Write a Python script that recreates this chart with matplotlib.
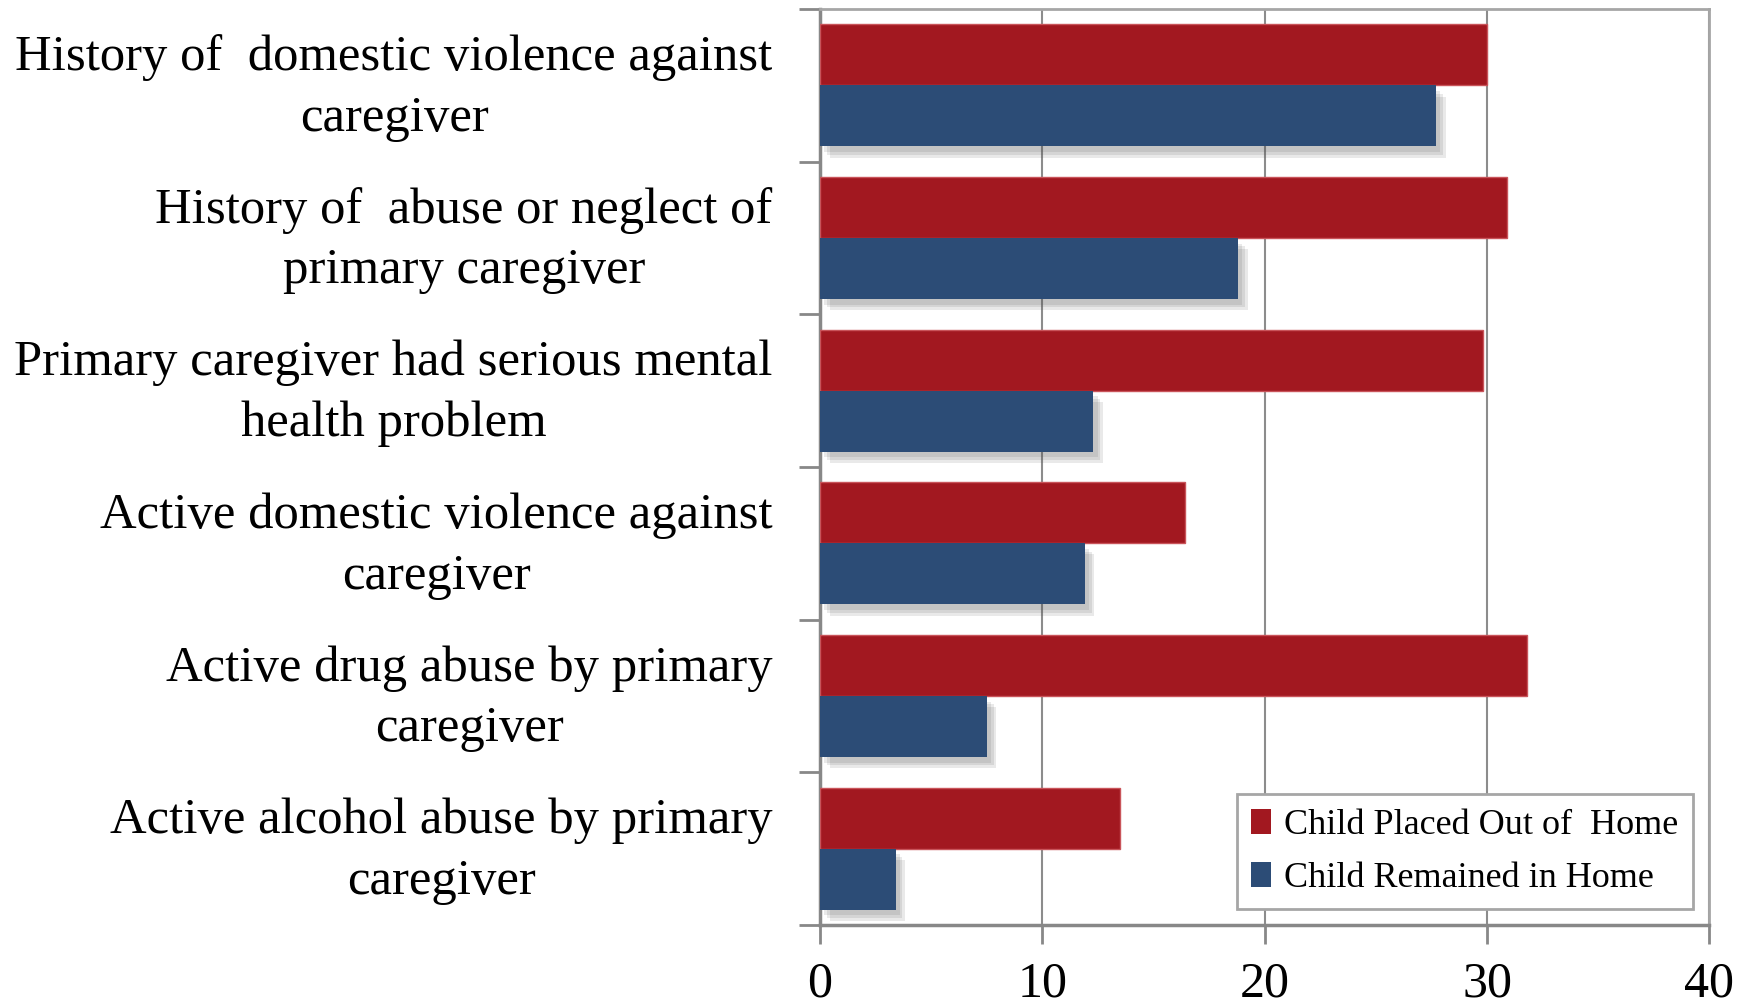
import numpy as np
import matplotlib
matplotlib.use('Agg')
import matplotlib.pyplot as plt
import matplotlib.patheffects as pe
import matplotlib.transforms as mtransforms
from matplotlib.patches import Patch

# we keep the values
categories = ['History of  domestic violence against\ncaregiver',
              'History of  abuse or neglect of\nprimary caregiver',
              'Primary caregiver had serious mental\nhealth problem',
              'Active domestic violence against\ncaregiver',
              'Active drug abuse by primary\ncaregiver',
              'Active alcohol abuse by primary\ncaregiver']
placed_out = [30.0, 30.9, 29.8, 16.4, 31.8, 13.5]
remained_home = [27.7, 18.8, 12.3, 11.9, 7.5, 3.4]
series_names = ['Child Placed Out of  Home', 'Child Remained in Home']
x_ticks = [0, 10, 20, 30, 40]

red = '#A21820'
blue = '#2C4C76'

plt.rcParams['font.family'] = ['Liberation Serif', 'DejaVu Serif']

fig = plt.figure(figsize=(17.52, 10.07), dpi=100)
ax = fig.add_axes([0.468, 0.0814, 0.5077, 0.9096])

y = np.arange(len(categories))
h = 0.4

# red bars on top of each group, blue bars below with a soft shadow
ax.barh(y - h / 2, placed_out, height=h, color=red, edgecolor='#c9545a',
        linewidth=1, zorder=3)
blue_bars = ax.barh(y + h / 2, remained_home, height=h, color=blue,
                    edgecolor='none', zorder=3)
# a few light shadows stacked together look a bit like a blurred one
shadow = [pe.SimplePatchShadow(offset=(o, -o - 1), shadow_rgbFace='#555555', alpha=0.13)
          for o in (7, 5, 3)]
for b in blue_bars:
    b.set_path_effects(shadow + [pe.Normal()])

ax.set_xlim(0, 40)
ax.set_ylim(len(categories) - 0.5, -0.5)
ax.set_xticks(x_ticks)
ax.set_xticklabels([str(t) for t in x_ticks], fontsize=36)
ax.tick_params(axis='x', length=14, width=2, color='#888888', pad=12)

# we put the labels at the group centers and the tick marks at the boundaries
ax.set_yticks(y)
ax.set_yticklabels(categories, fontsize=36.5, ha='right', multialignment='center',
                   linespacing=1.4)
ax.tick_params(axis='y', which='major', length=0, pad=34)
ax.set_yticks(np.arange(len(categories) + 1) - 0.5, minor=True)
ax.tick_params(axis='y', which='minor', length=15, width=2, color='#888888')
# nudge the two-line labels up a little so they sit in the middle of the group
nudge = mtransforms.ScaledTranslation(0, 0.1, fig.dpi_scale_trans)
for lab in ax.get_yticklabels():
    lab.set_transform(lab.get_transform() + nudge)

ax.grid(axis='x', color='#8c8c8c', linewidth=1.5, zorder=0)
ax.set_axisbelow(True)
for side in ['top', 'right']:
    ax.spines[side].set_color('#a6a6a6')
    ax.spines[side].set_linewidth(2)
for side in ['left', 'bottom']:
    ax.spines[side].set_color('#888888')
    ax.spines[side].set_linewidth(2.5)

handles = [Patch(facecolor=red, edgecolor='none'), Patch(facecolor=blue, edgecolor='none')]
leg = ax.legend(handles, series_names, loc='lower right', bbox_to_anchor=(0.981, 0.017),
                borderaxespad=0, fontsize=26, frameon=True, fancybox=False,
                edgecolor='#a6a6a6', framealpha=1,
                handlelength=0.55, handleheight=0.7, handletextpad=0.35,
                borderpad=0.4, labelspacing=0.55)
leg.get_frame().set_linewidth(2)

plt.savefig('out.png', dpi=100)
